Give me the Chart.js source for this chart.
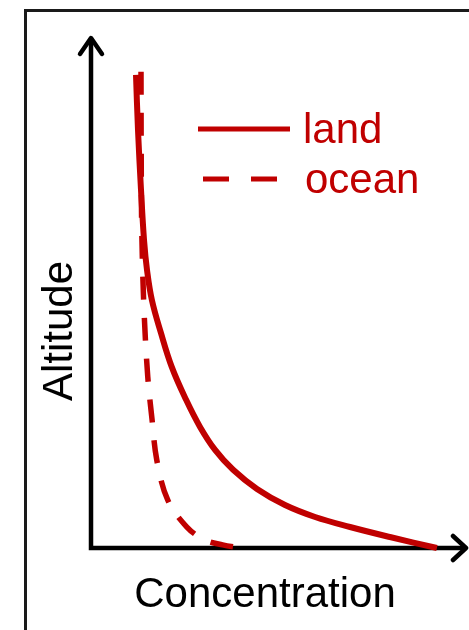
<!DOCTYPE html>
<html><head><meta charset="utf-8">
<script src="https://cdn.jsdelivr.net/npm/chart.js@4.4.0/dist/chart.umd.min.js"></script>
<style>html,body{margin:0;padding:0;background:#fff;overflow:hidden}canvas{display:block}</style>
</head><body>
<canvas id="c" width="469" height="630"></canvas>
<script>
const seriesNames = ['land', 'ocean'];
const xAxisTitle = 'Concentration';
const yAxisTitle = 'Altitude';
const landConc = [11.97, 12.5, 13.3, 14.1, 14.9, 16.2, 18.6, 21.5, 25.3, 29.0, 33.0, 37.8, 44.15, 51.6, 59.6, 68.9, 79.5, 92.0];
const landAlt  = [92.6, 81.8, 70.1, 60.3, 54.4, 48.5, 42.1, 35.4, 29.0, 23.7, 19.2, 15.3, 11.55, 8.41, 6.07, 4.11, 2.15, 0];
const oceanConc = [13.3, 13.35, 13.5, 14.1, 15.1, 16.2, 17.5, 20.4, 25.5, 30.2, 35.0, 39.7];
const oceanAlt  = [93.2, 77.9, 62.2, 46.6, 33.5, 25.4, 17.2, 9.4, 4.1, 1.6, 0.6, 0];

const RED = '#c00000';
const FONT = "42px 'Liberation Sans', Arial, sans-serif";
const toPts = (xs, ys) => xs.map((x, i) => ({x: x, y: ys[i]}));

const decor = {
  id: 'decor',
  beforeDatasetsDraw(chart) {
    const ctx = chart.ctx;
    const xs = chart.scales.x, ys = chart.scales.y;
    const x0 = xs.getPixelForValue(0), y0 = ys.getPixelForValue(0);
    const yTop = ys.getPixelForValue(100), xEnd = xs.getPixelForValue(100);
    ctx.save();
    ctx.strokeStyle = '#1a1a1a';
    ctx.lineWidth = 3;
    ctx.beginPath();
    ctx.moveTo(25.5, 640); ctx.lineTo(25.5, 10.5); ctx.lineTo(480, 10.5);
    ctx.stroke();
    ctx.strokeStyle = '#000';
    ctx.lineWidth = 4.5;
    ctx.lineJoin = 'miter';
    ctx.beginPath();
    ctx.moveTo(x0, yTop + 1); ctx.lineTo(x0, y0); ctx.lineTo(xEnd - 1, y0);
    ctx.stroke();
    ctx.lineJoin = 'round'; ctx.lineCap = 'round';
    ctx.beginPath();
    ctx.moveTo(x0 - 11, yTop + 17); ctx.lineTo(x0, yTop + 1); ctx.lineTo(x0 + 11, yTop + 17);
    ctx.stroke();
    ctx.beginPath();
    ctx.moveTo(xEnd - 14, y0 - 12); ctx.lineTo(xEnd - 1, y0); ctx.lineTo(xEnd - 14, y0 + 12);
    ctx.stroke();
    ctx.restore();
  },
  afterDraw(chart) {
    const ctx = chart.ctx;
    const xs = chart.scales.x, ys = chart.scales.y;
    ctx.save();
    ctx.font = FONT;
    ctx.fillStyle = '#000';
    ctx.textAlign = 'center';
    ctx.textBaseline = 'alphabetic';
    ctx.fillText(xAxisTitle, 265, ys.bottom + 59);
    ctx.translate(72, 331);
    ctx.rotate(-Math.PI / 2);
    ctx.fillText(yAxisTitle, 0, 0);
    ctx.restore();
    ctx.save();
    ctx.strokeStyle = RED; ctx.fillStyle = RED;
    ctx.lineWidth = 5; ctx.lineCap = 'butt';
    ctx.font = FONT; ctx.textAlign = 'left'; ctx.textBaseline = 'alphabetic';
    const ds = chart.data.datasets;
    ctx.beginPath(); ctx.moveTo(198, 129); ctx.lineTo(290, 129); ctx.stroke();
    ctx.fillText(ds[0].label, 303, 143);
    ctx.setLineDash([26, 22]);
    ctx.beginPath(); ctx.moveTo(203, 179); ctx.lineTo(277, 179); ctx.stroke();
    ctx.setLineDash([]);
    ctx.fillText(ds[1].label, 305, 193);
    ctx.restore();
  }
};

new Chart(document.getElementById('c'), {
  type: 'scatter',
  data: {
    datasets: [
      {label: seriesNames[0], data: toPts(landConc, landAlt), showLine: true,
       borderColor: RED, borderWidth: 6, pointRadius: 0, tension: 0.4, clip: false},
      {label: seriesNames[1], data: toPts(oceanConc, oceanAlt), showLine: true,
       borderColor: RED, borderWidth: 5.5, borderDash: [23, 18], pointRadius: 0, tension: 0.35, clip: false}
    ]
  },
  options: {
    responsive: false,
    animation: false,
    devicePixelRatio: 1,
    layout: {padding: {left: 91, top: 37, right: 2, bottom: 82}},
    plugins: {legend: {display: false}, tooltip: {enabled: false}},
    scales: {
      x: {type: 'linear', min: 0, max: 100, display: false},
      y: {type: 'linear', min: 0, max: 100, display: false}
    }
  },
  plugins: [decor]
});
</script>
</body></html>
